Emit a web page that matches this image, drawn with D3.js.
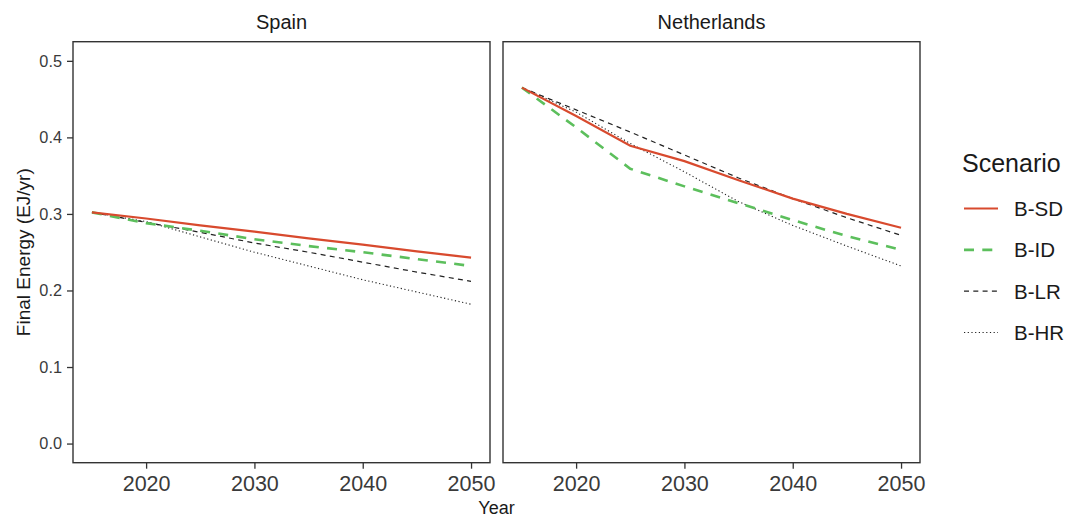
<!DOCTYPE html>
<html>
<head>
<meta charset="utf-8">
<script src="https://cdnjs.cloudflare.com/ajax/libs/d3/7.8.5/d3.min.js"></script>
<style>
    body { margin: 0; background: #fff; }
    text { font-family: "Liberation Sans", Arial, sans-serif; }
    .axis text { fill: #3a3a3a; }
    .axis line { stroke: #333; stroke-width: 1.3px; }
</style>
</head>
<body>
<div id="chart"></div>
<script>
// values
var years = [2015, 2020, 2025, 2030, 2035, 2040, 2045, 2050];
var countries = ["Spain", "Netherlands"];
var scenarios = ["B-SD", "B-ID", "B-LR", "B-HR"];

var spainSD = [0.302, 0.294, 0.285, 0.277, 0.268, 0.260, 0.251, 0.243];
var spainID = [0.302, 0.288, 0.278, 0.267, 0.258, 0.250, 0.241, 0.232];
var spainLR = [0.302, 0.289, 0.276, 0.262, 0.250, 0.237, 0.224, 0.212];
var spainHR = [0.302, 0.290, 0.270, 0.250, 0.232, 0.214, 0.198, 0.182];

var nlSD = [0.465, 0.428, 0.389, 0.369, 0.344, 0.320, 0.300, 0.282];
var nlID = [0.465, 0.413, 0.359, 0.336, 0.314, 0.292, 0.271, 0.253];
var nlLR = [0.465, 0.436, 0.407, 0.377, 0.347, 0.320, 0.295, 0.272];
var nlHR = [0.465, 0.433, 0.392, 0.355, 0.316, 0.285, 0.258, 0.232];

var yTicks = [0, 0.1, 0.2, 0.3, 0.4, 0.5];
var xTicks = [2020, 2030, 2040, 2050];

var seriesByCountry = {
    "Spain": [spainSD, spainID, spainLR, spainHR],
    "Netherlands": [nlSD, nlID, nlLR, nlHR]
};

// line look per scenario
var styles = {
    "B-SD": {color: "#d84a2e", width: 2.2, dash: null},
    "B-ID": {color: "#5cbf5c", width: 2.6, dash: "10,8.3"},
    "B-LR": {color: "#222", width: 1.2, dash: "5,4.3"},
    "B-HR": {color: "#222", width: 1.1, dash: "1.2,2.5"}
};

var svg = d3.select("#chart").append("svg")
    .attr("width", 1068)
    .attr("height", 519);

var panelTop = 41.7, panelBottom = 462.7;
var panels = [{left: 73, right: 490}, {left: 503, right: 920}];

var y = d3.scaleLinear()
    .domain([-0.025, 0.525])
    .range([panelBottom, panelTop]);

countries.forEach(function(country, i) {
    var p = panels[i];

    var x = d3.scaleLinear()
        .domain([2013.25, 2051.75])
        .range([p.left, p.right]);

    // strip title
    svg.append("text")
        .attr("x", (p.left + p.right) / 2)
        .attr("y", 29.3)
        .style("text-anchor", "middle")
        .style("font-size", "20px")
        .style("fill", "#1a1a1a")
        .text(country);

    var line = d3.line()
        .x(function(d) { return x(d[0]); })
        .y(function(d) { return y(d[1]); });

    // draw HR first so solid/dashed lines sit on top
    [3, 2, 1, 0].forEach(function(k) {
        var st = styles[scenarios[k]];
        var pts = years.map(function(yr, j) { return [yr, seriesByCountry[country][k][j]]; });
        svg.append("path")
            .datum(pts)
            .attr("d", line)
            .style("fill", "none")
            .style("stroke", st.color)
            .style("stroke-width", st.width + "px")
            .style("stroke-dasharray", st.dash);
    });

    var xAxis = d3.axisBottom(x)
        .tickValues(xTicks)
        .tickFormat(d3.format("d"))
        .tickSizeOuter(0)
        .tickSize(6)
        .tickPadding(7);

    var gx = svg.append("g")
        .attr("class", "x-axis axis")
        .attr("transform", "translate(0," + panelBottom + ")")
        .call(xAxis);
    gx.select(".domain").remove();
    gx.selectAll("text").style("font-size", "21.5px");

    if (i === 0) {
        var yAxis = d3.axisLeft(y)
            .tickValues(yTicks)
            .tickFormat(d3.format(".1f"))
            .tickSizeOuter(0)
            .tickSize(6)
            .tickPadding(5);
        var gy = svg.append("g")
            .attr("class", "y-axis axis")
            .attr("transform", "translate(" + p.left + ",0)")
            .call(yAxis);
        gy.select(".domain").remove();
        gy.selectAll("text").style("font-size", "16.3px");
    }

    svg.append("rect")
        .attr("x", p.left)
        .attr("y", panelTop)
        .attr("width", p.right - p.left)
        .attr("height", panelBottom - panelTop)
        .style("fill", "none")
        .style("stroke", "#333")
        .style("stroke-width", "1.4px");
});

// axis titles
svg.append("text")
    .attr("transform", "translate(30," + ((panelTop + panelBottom) / 2) + ") rotate(-90)")
    .style("text-anchor", "middle")
    .style("font-size", "19px")
    .style("fill", "#1a1a1a")
    .text("Final Energy (EJ/yr)");

svg.append("text")
    .attr("x", (panels[0].left + panels[1].right) / 2)
    .attr("y", 514)
    .style("text-anchor", "middle")
    .style("font-size", "18px")
    .style("fill", "#1a1a1a")
    .text("Year");

// legend
var legend = svg.append("g").attr("transform", "translate(962,0)");

legend.append("text")
    .attr("x", 0)
    .attr("y", 171.7)
    .style("font-size", "25px")
    .style("fill", "#1a1a1a")
    .text("Scenario");

var keyY = d3.scalePoint()
    .domain(scenarios)
    .range([208.5, 332.5]);

scenarios.forEach(function(s) {
    var st = styles[s];
    legend.append("line")
        .attr("x1", 2)
        .attr("x2", 36)
        .attr("y1", keyY(s))
        .attr("y2", keyY(s))
        .style("stroke", st.color)
        .style("stroke-width", st.width + "px")
        .style("stroke-dasharray", st.dash);

    legend.append("text")
        .attr("x", 52)
        .attr("y", keyY(s))
        .attr("dy", "0.36em")
        .style("font-size", "20.5px")
        .style("fill", "#1a1a1a")
        .text(s);
});
</script>
</body>
</html>
